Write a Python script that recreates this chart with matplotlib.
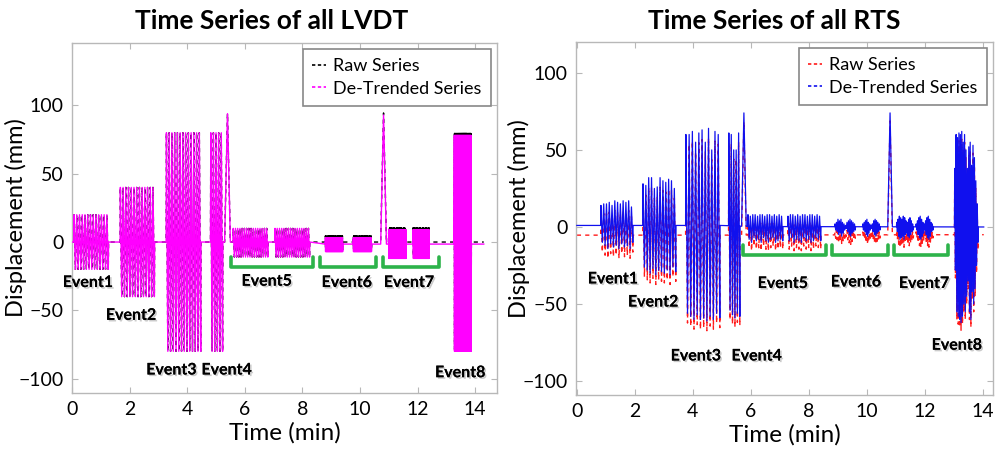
import numpy as np
import matplotlib
matplotlib.use("Agg")
import matplotlib.pyplot as plt
import matplotlib.patheffects as pe
from matplotlib.lines import Line2D

plt.rcParams['font.family'] = ['Lato', 'DejaVu Sans']

# ---------------- LVDT (left panel) ----------------
lvdt_ev_start = [0.07, 1.68, 3.28, 4.82, 5.60, 7.05, 8.80, 9.77, 11.00, 11.85, 13.28]
lvdt_ev_end = [1.26, 2.86, 4.47, 5.23, 6.80, 8.25, 9.40, 10.40, 11.60, 12.40, 13.86]
lvdt_ev_cycles = [13, 13, 13, 5, 16, 16, 45, 45, 45, 45, 70]
lvdt_ev_upper = [20, 40, 80, 80, 10, 10, 3, 3, 9, 9, 78]
lvdt_ev_lower = [-20, -40, -80, -80, -11, -11, -7, -7, -12, -12, -80]
lvdt_spike_t = [5.40, 10.82]
lvdt_spike_v = [94, 93]
lvdt_base_t = [0.0, 8.30, 8.40, 14.30]
lvdt_base_v = [0.0, 0.0, -1.5, -1.5]
lvdt_trend_v = [0.0, 0.0, 1.5, 1.5]   # raw = de-trended + trend
lvdt_end_t = 14.30

lvdt_lab = ["Event1", "Event2", "Event3", "Event4", "Event5", "Event6", "Event7", "Event8"]
lvdt_lab_x = [0.55, 2.05, 3.45, 5.37, 6.76, 9.54, 11.70, 13.48]
lvdt_lab_y = [-30, -54, -94, -94, -29, -30, -30, -96]
lvdt_brk_x0 = [5.51, 8.61, 10.80]
lvdt_brk_x1 = [8.37, 10.55, 12.75]
lvdt_brk_top = -11
lvdt_brk_bot = -18

# ---------------- RTS (right panel) ----------------
rts_ev_start = [0.83, 2.28, 3.76, 5.24, 5.90, 7.28, 8.90, 9.86, 11.03, 11.70, 13.03]
rts_ev_end = [1.93, 3.41, 4.93, 5.62, 7.10, 8.41, 9.60, 10.45, 11.60, 12.28, 13.83]
rts_ev_upper = [
    [14, 15, 15, 16, 14, 17, 16, 15, 17, 16, 17, 13],
    [28, 27, 32, 32, 25, 26, 32, 30, 29, 31, 30, 25],
    [60, 60, 62, 55, 61, 63, 55, 64, 50, 62, 60],
    [61, 60, 50, 50, 61],
    [8, 7, 8, 8, 7, 8, 8, 7, 8, 8, 7, 8, 7, 8, 7],
    [7, 8, 8, 7, 8, 7, 8, 8, 7, 8, 8, 7, 8, 7],
    [2, 3, 5, 4, 5, 3, 2, 1, 3, 4, 5, 4, 3, 2],
    [2, 3, 4, 5, 3, 2, 1, 2, 4, 5, 4, 3, 2],
    [3, 5, 7, 6, 5, 7, 6, 4, 3, 5, 6, 4, 2],
    [2, 4, 6, 7, 5, 3, 2, 4, 6, 7, 5, 3, 2],
    [38, 60, 58, 61, 60, 62, 55, 60, 50, 38, 52, 55, 40, 53, 45, 30, 15],
]
rts_ev_lower = [
    [-10, -12, -14, -11, -13, -12, -14, -11, -13, -12, -14, -10],
    [-26, -28, -30, -27, -31, -28, -29, -30, -28, -31, -26, -29],
    [-56, -58, -60, -57, -60, -59, -61, -58, -60, -56, -59],
    [-54, -57, -59, -56, -58],
    [-8, -10, -7, -9, -8, -10, -7, -9, -10, -8, -7, -10, -9, -8, -9],
    [-9, -7, -10, -8, -9, -10, -7, -9, -8, -10, -9, -7, -8, -9],
    [-2, -3, -5, -4, -6, -4, -2, -1, -3, -5, -6, -4, -3, -2],
    [-2, -3, -5, -6, -4, -2, -1, -3, -5, -6, -4, -3, -2],
    [-3, -6, -8, -7, -6, -8, -5, -4, -6, -7, -5, -3, -2],
    [-2, -5, -7, -8, -6, -4, -2, -5, -7, -8, -6, -3, -2],
    [-28, -55, -58, -60, -62, -58, -50, -55, -45, -35, -55, -60, -42, -50, -40, -25, -10],
]
rts_spike_t = [5.76, 10.80]
rts_spike_v = [74, 74]
rts_base_t = [0.0, 5.0, 6.0, 14.03]
rts_base_v = [1.0, 1.0, 0.3, 0.0]
rts_trend_v = [-6.3, -6.3, -5.5, -5.0]   # raw = de-trended + trend
rts_end_t = 14.03

rts_lab = ["Event1", "Event2", "Event3", "Event4", "Event5", "Event6", "Event7", "Event8"]
rts_lab_x = [1.24, 2.63, 4.10, 6.20, 7.10, 9.62, 11.97, 13.10]
rts_lab_y = [-34, -49, -84, -84, -37, -36, -37, -77]
rts_brk_x0 = [5.72, 8.80, 10.93]
rts_brk_x1 = [8.58, 10.72, 12.80]
rts_brk_top = -12
rts_brk_bot = -18


def zigzag(t0, t1, upper, lower, n=None):
    up = np.atleast_1d(np.asarray(upper, float))
    lo = np.atleast_1d(np.asarray(lower, float))
    if n is None:
        n = len(up)
    up = np.resize(up, n)
    lo = np.resize(lo, n)
    tt = np.linspace(t0, t1, 2 * n)
    vv = np.empty(2 * n)
    vv[0::2] = up
    vv[1::2] = lo
    return tt, vv


def build(starts, ends, uppers, lowers, cycles, sp_t, sp_v, sp_w, t_end, base_t, base_v):
    segs = [(0.0, np.array([0.0]), np.array([np.nan]))]
    for i, (s, e, u, l) in enumerate(zip(starts, ends, uppers, lowers)):
        n = cycles[i] if cycles is not None else None
        tt, vv = zigzag(s, e, u, l, n)
        tt = np.concatenate([[s - 0.01], tt, [e + 0.01]])
        vv = np.concatenate([[np.nan], vv, [np.nan]])
        segs.append((s, tt, vv))
    for ts, vs in zip(sp_t, sp_v):
        segs.append((ts - sp_w, np.array([ts - sp_w, ts, ts + sp_w]),
                     np.array([np.nan, vs, np.nan])))
    segs.append((t_end, np.array([t_end]), np.array([np.nan])))
    segs.sort(key=lambda s: s[0])
    t = np.concatenate([s[1] for s in segs])
    v = np.concatenate([s[2] for s in segs])
    m = np.isnan(v)
    v[m] = np.interp(t[m], base_t, base_v)
    return t, v


lt, lv = build(lvdt_ev_start, lvdt_ev_end, lvdt_ev_upper, lvdt_ev_lower, lvdt_ev_cycles,
               lvdt_spike_t, lvdt_spike_v, 0.10, lvdt_end_t, lvdt_base_t, lvdt_base_v)
lraw = lv + np.interp(lt, lvdt_base_t, lvdt_trend_v)

rt, rv = build(rts_ev_start, rts_ev_end, rts_ev_upper, rts_ev_lower, None,
               rts_spike_t, rts_spike_v, 0.08, rts_end_t, rts_base_t, rts_base_v)
rraw = rv + np.interp(rt, rts_base_t, rts_trend_v)

fig = plt.figure(figsize=(9.98, 4.54), dpi=100)
axL = fig.add_axes([72 / 998, 1 - 393 / 454, 425 / 998, 350 / 454])
axR = fig.add_axes([576 / 998, 1 - 395 / 454, 417 / 998, 353 / 454])

GREEN = '#2db34a'
shadow = [pe.withSimplePatchShadow(offset=(1.2, -1.2), shadow_rgbFace='#999999', alpha=0.5), pe.Normal()]


def style(ax, xlim, ylim, ylab_x):
    ax.set_xlim(*xlim)
    ax.set_ylim(*ylim)
    ax.set_xticks([0, 2, 4, 6, 8, 10, 12, 14])
    ax.set_yticks([-100, -50, 0, 50, 100])
    for s in ax.spines.values():
        s.set_color('#b8b8b8')
        s.set_linewidth(1.0)
    ax.tick_params(direction='in', length=4, color='#b8b8b8', labelsize=14,
                   top=True, right=True, pad=6)
    ax.set_xlabel('Time (min)', fontsize=17.5, labelpad=3)
    ax.set_ylabel('Displacement (mm)', fontsize=17)
    ax.yaxis.set_label_coords(ylab_x, 0.5)


def legend(ax, handles):
    leg = ax.legend(handles, ['Raw Series', 'De-Trended Series'], loc='upper right',
                    fontsize=13, handlelength=0.8, handletextpad=0.4, borderaxespad=0.35,
                    fancybox=False, edgecolor='#888888', framealpha=1, borderpad=0.5,
                    labelspacing=0.35)
    leg.get_frame().set_linewidth(1.2)


# Left panel
axL.plot(lt, lraw, color='black', lw=1.0, ls=(0, (3, 3)), zorder=2)
axL.plot(lt, lv, color='#ff00ff', lw=1.0, zorder=3)
style(axL, (0, 14.76), (-110.5, 145.7), -0.106)
for x0, x1 in zip(lvdt_brk_x0, lvdt_brk_x1):
    axL.plot([x0, x0, x1, x1], [lvdt_brk_top, lvdt_brk_bot, lvdt_brk_bot, lvdt_brk_top],
             color=GREEN, lw=2.6, solid_joinstyle='round', solid_capstyle='round', zorder=4)
for s, x, y in zip(lvdt_lab, lvdt_lab_x, lvdt_lab_y):
    axL.text(x, y, s, ha='center', va='center', fontsize=11.5, fontweight='bold',
             path_effects=shadow, zorder=5)
legend(axL, [Line2D([], [], color='black', ls=(0, (2, 1.5)), lw=1.2),
             Line2D([], [], color='#ff00ff', ls=(0, (2, 1.5)), lw=1.2)])

# Right panel
axR.plot(rt, rraw, color='#ff1a1a', lw=1.0, ls=(0, (3, 3)), zorder=2)
axR.plot(rt, rv, color='#1010ee', lw=0.9, zorder=3)
style(axR, (-0.03, 14.35), (-109, 120), -0.110)
for x0, x1 in zip(rts_brk_x0, rts_brk_x1):
    axR.plot([x0, x0, x1, x1], [rts_brk_top, rts_brk_bot, rts_brk_bot, rts_brk_top],
             color=GREEN, lw=2.6, solid_joinstyle='round', solid_capstyle='round', zorder=4)
for s, x, y in zip(rts_lab, rts_lab_x, rts_lab_y):
    axR.text(x, y, s, ha='center', va='center', fontsize=11.5, fontweight='bold',
             path_effects=shadow, zorder=5)
legend(axR, [Line2D([], [], color='#ff1a1a', ls=(0, (2, 1.5)), lw=1.2),
             Line2D([], [], color='#1010ee', ls=(0, (2, 1.5)), lw=1.2)])

fig.text(272 / 998, 1 - 21 / 454, 'Time Series of all LVDT', ha='center', va='center',
         fontsize=19, fontweight='bold')
fig.text(774 / 998, 1 - 21 / 454, 'Time Series of all RTS', ha='center', va='center',
         fontsize=19, fontweight='bold')

fig.savefig('out.png', dpi=100)
